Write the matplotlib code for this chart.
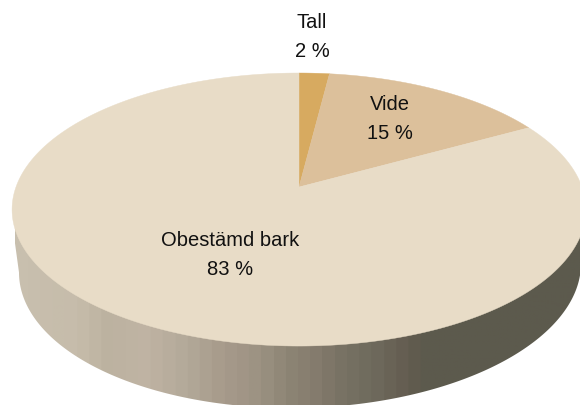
import numpy as np
import matplotlib
matplotlib.use('Agg')
import matplotlib.pyplot as plt
from matplotlib.colors import LinearSegmentedColormap
from matplotlib.patches import Polygon

plt.rcParams['font.family'] = ['Liberation Sans', 'DejaVu Sans']

categories = ['Tall', 'Vide', 'Obestämd bark']
shares = [2, 15, 83]
slice_colors = ['#d7aa60', '#dcc09b', '#e8dcc7']

# label centres in pixels
label_x = [312, 390, 230]
label_y = [37, 119, 255]

# pie seen at an angle: pixels of the centre and the projection
cx, cy = 299, 187
a, b, k = 283, 132.8, 0.165


def project(theta):
    # theta runs clockwise from the top of the pie
    u, v = np.sin(theta), np.cos(theta)
    w = 1 + k * v
    return cx + a * u / w, cy - b * v / w


fig = plt.figure(figsize=(5.8, 4.05), dpi=100)
ax = fig.add_axes([0, 0, 1, 1])
ax.set_xlim(0, 580)
ax.set_ylim(405, 0)
ax.axis('off')

# side wall, banded left to right
wall_stops = [(0.00, '#c8bfae'), (0.10, '#c6bcab'), (0.16, '#bcb2a0'), (0.22, '#c0b4a4'),
              (0.30, '#b3a999'), (0.36, '#a89b8c'), (0.43, '#9c9282'), (0.48, '#8d8575'),
              (0.53, '#857c6e'), (0.58, '#787264'), (0.64, '#6e6a5c'), (0.70, '#635c50'),
              (0.73, '#5d5a4d'), (1.00, '#5c5a4d')]
wall_cmap = LinearSegmentedColormap.from_list('wall', wall_stops, N=46)
rim = np.linspace(-np.pi / 2, np.pi / 2, 361)
rim_x = 300 + 281 * np.sin(rim)
rim_y = 268 + 140 * np.cos(rim) - 0.016 * (rim_x - 300)
wall = Polygon(np.column_stack([np.r_[12.5, rim_x, 585.5], np.r_[225, rim_y, 225]]),
               closed=True, transform=ax.transData)
grad = ax.imshow(np.linspace(0, 1, 564)[None, :], cmap=wall_cmap, aspect='auto',
                 extent=(15, 581, 405, 190), zorder=1)
grad.set_clip_path(wall)
ax.set_xlim(0, 580)
ax.set_ylim(405, 0)

# top face
start = 0.0
for share, color in zip(shares, slice_colors):
    stop = start + share / sum(shares) * 2 * np.pi
    th = np.linspace(start, stop, 400)
    x, y = project(th)
    ax.fill(np.r_[cx, x], np.r_[cy, y], color=color, lw=0.3, zorder=2)
    start = stop

for name, share, x, y in zip(categories, shares, label_x, label_y):
    ax.text(x, y, f'{name}\n{share} %', ha='center', va='center', fontsize=14.5,
            color='#111111', linespacing=1.68, zorder=3)

fig.savefig('out.png', dpi=100)
